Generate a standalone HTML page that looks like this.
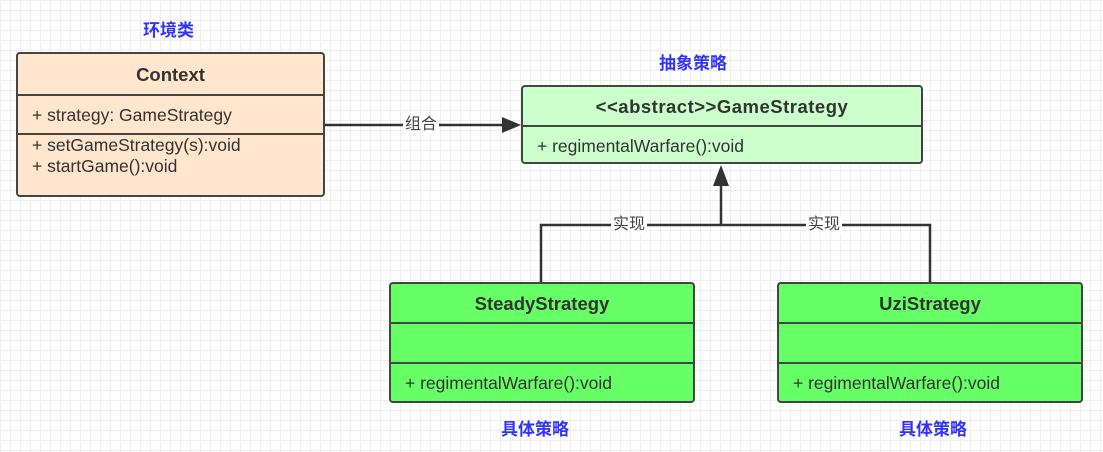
<!DOCTYPE html>
<html><head><meta charset="utf-8"><style>
body{margin:0;width:1103px;height:452px;overflow:hidden;background:#fff;
background-image:linear-gradient(#eeeeee 1px,transparent 1px),linear-gradient(90deg,#eeeeee 1px,transparent 1px);background-size:10px 10px;
font-family:"Liberation Sans","Noto Sans CJK SC",sans-serif;}
.box{position:absolute;border:2px solid #444;border-radius:4px;box-sizing:border-box;color:#333;font-size:17.5px;}
.sec{position:absolute;left:0;right:0;border-top:2px solid #444;}
.t{position:absolute;left:0;right:0;text-align:center;font-weight:bold;font-size:18.5px;}
.l{position:absolute;left:14px;white-space:nowrap;}
.blue{position:absolute;color:#3333ff;font-weight:bold;font-size:17px;}
.lab{position:absolute;background:#fff;font-size:16px;color:#444;padding:0 2px;line-height:18px}
</style></head><body>
<div class="blue" style="left:143px;top:16px">环境类</div>
<div class="blue" style="left:659px;top:49px">抽象策略</div>
<div class="blue" style="left:501px;top:415px">具体策略</div>
<div class="blue" style="left:899px;top:415px">具体策略</div>

<div class="box" style="left:16px;top:52px;width:309px;height:145px;background:#ffe6cc">
<div class="t" style="top:10px">Context</div>
<div class="sec" style="top:40px"></div>
<div class="l" style="top:51px">+ strategy: GameStrategy</div>
<div class="sec" style="top:79px"></div>
<div class="l" style="top:81px;line-height:21px">+ setGameStrategy(s):void<br>+ startGame():void</div>
</div>

<div class="box" style="left:521px;top:85px;width:402px;height:79px;background:#ccffcc">
<div class="t" style="top:9px;letter-spacing:0.5px">&lt;&lt;abstract&gt;&gt;GameStrategy</div>
<div class="sec" style="top:38px"></div>
<div class="l" style="top:49px">+ regimentalWarfare():void</div>
</div>

<div class="box" style="left:389px;top:282px;width:306px;height:121px;background:#66ff66">
<div class="t" style="top:9px">SteadyStrategy</div>
<div class="sec" style="top:38px"></div>
<div class="sec" style="top:78px"></div>
<div class="l" style="top:89px">+ regimentalWarfare():void</div>
</div>
<div class="box" style="left:777px;top:282px;width:306px;height:121px;background:#66ff66">
<div class="t" style="top:9px">UziStrategy</div>
<div class="sec" style="top:38px"></div>
<div class="sec" style="top:78px"></div>
<div class="l" style="top:89px">+ regimentalWarfare():void</div>
</div>

<svg style="position:absolute;left:0;top:0" width="1103" height="452">
<g stroke="#333" stroke-width="2.5" fill="none">
<line x1="325" y1="125" x2="505" y2="125"/>
<polyline points="541,282 541,225 930,225 930,282"/>
<line x1="721" y1="225" x2="721" y2="182"/>
</g>
<polygon points="521,125 502,117 502,133" fill="#333"/>
<polygon points="721,165 713,186 729,186" fill="#333"/>
</svg>
<div class="lab" style="left:403px;top:116px">组合</div>
<div class="lab" style="left:611px;top:216px">实现</div>
<div class="lab" style="left:806px;top:216px">实现</div>
</body></html>
